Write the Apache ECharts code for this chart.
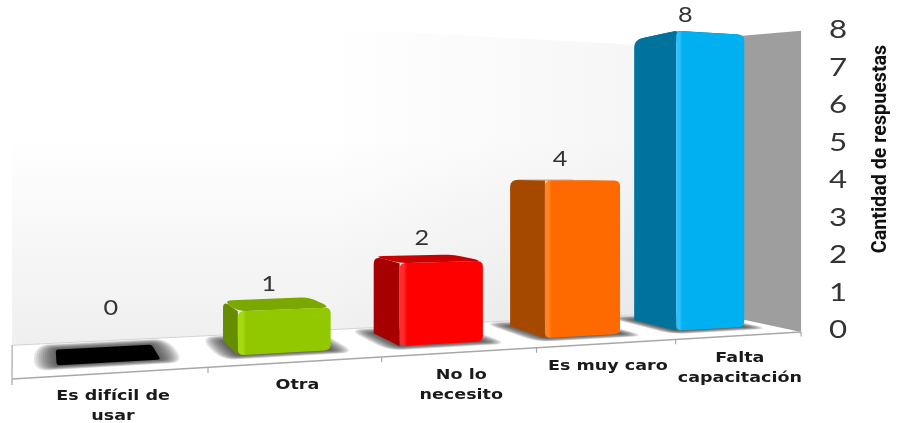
<!DOCTYPE html>
<html>
<head>
<meta charset="utf-8">
<style>html,body{margin:0;padding:0;background:#fff}#chart{width:897px;height:423px}</style>
<script src="https://cdn.jsdelivr.net/npm/echarts@6/dist/echarts.min.js"></script>
</head>
<body>
<div id="chart"></div>
<script>
// Survey answers, lowest to highest
const categories = ['Es difícil de\nusar', 'Otra', 'No lo\nnecesito', 'Es muy caro', 'Falta\ncapacitación'];
const responses = [0, 1, 2, 4, 8];
const axisTicks = [0, 1, 2, 3, 4, 5, 6, 7, 8];
const axisTitle = 'Cantidad de respuestas';

// Front, side and top shades of each column
const frontColors = ['#000000', '#92c800', '#ff0000', '#ff6a00', '#00b0f0'];
const sideColors = ['#000000', '#668c00', '#a60000', '#a54800', '#00739d'];
const topColors = ['#000000', '#7aa800', '#c80000', '#c85400', '#00739d'];
const glowColors = ['#000000', '#a6da10', '#ff2a2a', '#ff8420', '#2cc0ff'];

const grid = { left: 12, top: 30, width: 791, height: 300 };
const bandW = grid.width / categories.length;
const yMax = axisTicks[axisTicks.length - 1];

// Perspective camera: X runs along the categories, Z into the depth, V is the value.
function project(X, Z, V) {
  const w = 1 + 0.0644 * X + 0.194 * Z;
  return [
    (12 + 209.4 * X + 8.74 * Z) / w,
    (379 + 12 * X + 33 * Z - 49.8 * V) / w
  ];
}

// Turn data values into flat grid pixels with the axes, then into the camera's world units.
function worldPoint(api, xVal, zVal, yVal) {
  const p = api.coord([xVal, yVal]);
  return project((p[0] - grid.left) / bandW, zVal, (grid.top + grid.height - p[1]) / grid.height * yMax);
}

// Samples a polygon with its listed corners rounded off.
function rounded(points, radius, cornerFlags) {
  const out = [];
  const n = points.length;
  for (let i = 0; i < n; i++) {
    const c = points[i], a = points[(i + n - 1) % n], b = points[(i + 1) % n];
    if (cornerFlags && !cornerFlags[i]) { out.push(c); continue; }
    const la = Math.hypot(a[0] - c[0], a[1] - c[1]) || 1;
    const lb = Math.hypot(b[0] - c[0], b[1] - c[1]) || 1;
    const ra = Math.min(radius, la / 2), rb = Math.min(radius, lb / 2);
    const s = [c[0] + (a[0] - c[0]) * ra / la, c[1] + (a[1] - c[1]) * ra / la];
    const e = [c[0] + (b[0] - c[0]) * rb / lb, c[1] + (b[1] - c[1]) * rb / lb];
    for (let k = 0; k <= 6; k++) {
      const t = k / 6, u = 1 - t;
      out.push([u * u * s[0] + 2 * u * t * c[0] + t * t * e[0], u * u * s[1] + 2 * u * t * c[1] + t * t * e[1]]);
    }
  }
  return out;
}

const barInsetL = 0.22, barInsetR = 0.78, barFront = 0.292, barBack = 0.78;
// The rear left corner of the floor sits straight above the front one.
const rearLeft = -0.03;

function poly(points, fill, extra) {
  return { type: 'polygon', silent: true, shape: { points }, style: Object.assign({ fill }, extra || {}) };
}
function line(a, b, stroke, lineWidth) {
  return { type: 'line', silent: true, shape: { x1: a[0], y1: a[1], x2: b[0], y2: b[1] }, style: { stroke, lineWidth } };
}

function renderFloor(params, api) {
  const P = (x, z, y) => worldPoint(api, x, z, y);
  const n = categories.length;
  return { type: 'group', children: [poly([P(0, 0, 0), P(n, 0, 0), P(n, 1, 0), P(rearLeft, 1, 0)], '#ffffff')] };
}

// Soft contact shadow, built from stacked translucent footprints that grow outward.
function renderShadow(params, api) {
  const i = api.value(0);
  const P = (x, z) => worldPoint(api, x, z, 0);
  const children = [];
  const rings = 10;
  for (let k = rings; k >= 1; k--) {
    const gx = 0.012 * k, gz = 0.012 * k;
    const x0 = i + barInsetL - gx, x1 = i + barInsetR + gx;
    const z0 = barFront - gz, z1 = barBack + gz * 1.6;
    children.push(poly(rounded([P(x0, z0), P(x1, z0), P(x1, z1), P(x0, z1)], 3 + k * 1.2), 'rgba(55,55,55,0.13)'));
  }
  return { type: 'group', children };
}

function renderWalls(params, api) {
  const P = (x, z, y) => worldPoint(api, x, z, y);
  const n = categories.length;
  const back = [P(rearLeft, 1, 0), P(n, 1, 0), P(n, 1, yMax), P(rearLeft, 1, yMax)];
  const shade = new echarts.graphic.LinearGradient(0, 0, 0, 1, [
    { offset: 0, color: '#ffffff' }, { offset: 0.38, color: '#ffffff' }, { offset: 1, color: '#efefef' }
  ]);
  const drift = new echarts.graphic.LinearGradient(0, 0, 1, 0, [
    { offset: 0, color: 'rgba(0,0,0,0)' }, { offset: 0.45, color: 'rgba(0,0,0,0)' }, { offset: 0.95, color: 'rgba(0,0,0,0.04)' }
  ]);
  const children = [
    poly(back, shade),
    poly(back, drift),
    poly([P(n, 0, 0), P(n, 1, 0), P(n, 1, yMax * 1.036), P(n, 0, yMax)], '#9e9e9e'),
    line(P(0, 0, 0), P(n, 0, 0), '#a8a8a8', 1.4),
    line(P(rearLeft, 1, 0), P(n, 1, 0), '#d4d4d4', 1),
    line(P(rearLeft, 1, 0), P(0, 0, -0.12), '#a8a8a8', 1.2)
  ];
  for (let t = 1; t <= n; t++) {
    children.push(line(P(t, 0, 0), P(t, 0, -0.12), '#a8a8a8', 1.2));
  }
  return { type: 'group', children };
}

function renderBar(params, api) {
  const i = api.value(0), v = api.value(1);
  const P = (x, z, y) => worldPoint(api, x, z, y);
  const x0 = i + barInsetL, x1 = i + barInsetR;
  const children = [];
  if (v === 0) {
    children.push(poly(rounded([P(x0, barFront, 0), P(x1, barFront, 0), P(x1, barBack, 0), P(x0, barBack, 0)], 3), frontColors[i]));
    return { type: 'group', children };
  }
  const face = new echarts.graphic.LinearGradient(0, 0, 1, 0, [
    { offset: 0, color: glowColors[i] }, { offset: 0.05, color: glowColors[i] },
    { offset: 0.09, color: frontColors[i] }, { offset: 1, color: frontColors[i] }
  ]);
  const sideFace = [P(x0, barFront, 0), P(x0, barBack, 0), P(x0, barBack, v), P(x0, barFront, v)];
  const topFace = [P(x0, barFront, v), P(x1, barFront, v), P(x1, barBack, v), P(x0, barBack, v)];
  const frontFace = [P(x0, barFront, 0), P(x1, barFront, 0), P(x1, barFront, v), P(x0, barFront, v)];
  children.push(poly(rounded(topFace, 9), topColors[i]));
  children.push(poly(rounded(sideFace, 8, [false, false, true, false]), sideColors[i]));
  children.push(poly(rounded(frontFace, 6), face));
  return { type: 'group', children };
}

function renderValue(params, api) {
  const i = api.value(0), v = api.value(1);
  const p = worldPoint(api, i + (v === 0 ? 0.52 : 0.45), 0.5, v);
  return {
    type: 'text', silent: true, x: p[0], y: p[1] - (v === 0 ? 47 : 21), scaleX: 1.2,
    style: { text: String(v), fill: '#333333', font: '21px Lato, sans-serif', align: 'center', verticalAlign: 'middle' }
  };
}

function renderCategory(params, api) {
  const i = api.value(0);
  const p = worldPoint(api, i + 0.5, 0, 0);
  return {
    type: 'text', silent: true, x: p[0], y: p[1] + 13, scaleX: 1.21,
    style: { text: categories[i], fill: '#1a1a1a', font: 'bold 14.5px "DejaVu Sans", sans-serif', lineHeight: 20, align: 'center', verticalAlign: 'top' }
  };
}

// Value axis numbers, placed by the axis scale and drawn a little wide.
function renderTick(params, api) {
  const p = api.coord([categories.length, api.value(0)]);
  return {
    type: 'text', silent: true, x: p[0] + 35, y: p[1], scaleX: 1.25,
    style: { text: String(api.value(0)), fill: '#333333', font: '25px Lato, sans-serif', align: 'center', verticalAlign: 'middle' }
  };
}

const rows = categories.map((c, i) => [i, responses[i]]);
const custom = (renderItem, data, z) => ({ type: 'custom', renderItem, data, z, clip: false, silent: true, animation: false });

const chart = echarts.init(document.getElementById('chart'), null, { renderer: 'canvas' });
chart.setOption({
  animation: false,
  backgroundColor: '#ffffff',
  grid: Object.assign({ containLabel: false }, grid),
  xAxis: { type: 'value', min: 0, max: categories.length, interval: 1, show: false },
  yAxis: { type: 'value', min: 0, max: yMax, interval: 1, position: 'right', show: false },
  graphic: [{
    type: 'text', x: 881, y: 149, rotation: Math.PI / 2,
    style: { text: axisTitle, fill: '#111111', font: 'bold 19.7px Roboto, sans-serif', align: 'center', verticalAlign: 'middle' }
  }],
  series: [
    custom(renderFloor, [[0, 0]], 1),
    custom(renderShadow, rows, 2),
    custom(renderWalls, [[0, 0]], 3),
    custom(renderBar, rows, 4),
    custom(renderValue, rows, 5),
    custom(renderCategory, rows, 5),
    custom(renderTick, axisTicks.map(t => [t]), 5)
  ]
});
</script>
</body>
</html>
